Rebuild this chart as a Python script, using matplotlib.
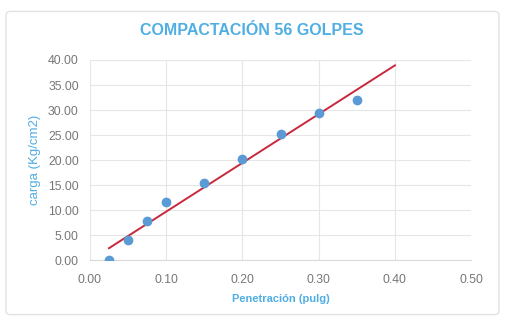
import numpy as np
import matplotlib
matplotlib.use("Agg")
import matplotlib.pyplot as plt
from matplotlib.patches import FancyBboxPatch

# Penetration test data
penetracion = [0.025, 0.05, 0.075, 0.10, 0.15, 0.20, 0.25, 0.30, 0.35]
carga = [0.0, 4.0, 7.8, 11.6, 15.4, 20.3, 25.2, 29.4, 32.0]
x_ticks = [0.0, 0.1, 0.2, 0.3, 0.4, 0.5]
y_ticks = [0, 5, 10, 15, 20, 25, 30, 35, 40]

blue_txt = '#4faee3'
plt.rcParams['font.family'] = ['Liberation Sans', 'DejaVu Sans']

fig = plt.figure(figsize=(5.05, 3.26), dpi=100)
fig.patch.set_facecolor('white')

# chart border (behind the axes)
border = FancyBboxPatch((0.012, 0.035), 0.976, 0.93, boxstyle='round,pad=0,rounding_size=0.01',
                        transform=fig.transFigure, facecolor='white', edgecolor='#e2e2e2',
                        lw=1.0, zorder=-1)
fig.patches.append(border)

ax = fig.add_axes([0.178, 0.202, 0.755, 0.614])
ax.patch.set_alpha(0)

ax.scatter(penetracion, carga, s=36, color='#5b9bd5', zorder=3)

# linear trend line, extended forward to 0.40
m, b = np.polyfit(penetracion, carga, 1)
xt = np.array([penetracion[0], 0.40])
ax.plot(xt, m * xt + b, color='#c8283c', lw=1.4, zorder=2)

ax.set_xlim(0, 0.5)
ax.set_ylim(0, 40)
ax.set_xticks(x_ticks)
ax.set_yticks(y_ticks)
ax.set_xticklabels([f'{v:.2f}' for v in x_ticks])
ax.set_yticklabels([f'{v:.2f}' for v in y_ticks])
ax.tick_params(axis='both', length=0, labelsize=8.8, labelcolor='#777777')
ax.tick_params(axis='x', pad=10)
ax.tick_params(axis='y', pad=8)
ax.grid(True, color='#e6e6e6', lw=0.8)
ax.set_axisbelow(True)
for s in ['top', 'right', 'left']:
    ax.spines[s].set_visible(False)
ax.spines['bottom'].set_color('#d9d9d9')

ax.set_xlabel('Penetración (pulg)', color=blue_txt, fontsize=8, fontweight='bold', labelpad=6)
ax.set_ylabel('carga (Kg/cm2)', color=blue_txt, fontsize=9.5, labelpad=5)
fig.text(0.498, 0.905, 'COMPACTACIÓN 56 GOLPES', color=blue_txt, fontsize=11.5,
         fontweight='bold', ha='center', va='center')

fig.savefig('out.png', dpi=100, facecolor='white')
